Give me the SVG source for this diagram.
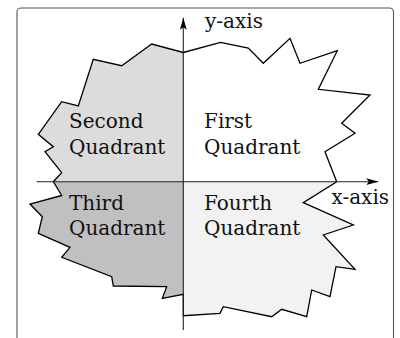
<svg xmlns="http://www.w3.org/2000/svg" width="400" height="338" viewBox="0 0 400 338">
<style>
  text { font-family: "DejaVu Serif", "Liberation Serif", serif; font-size: 20px; fill: #111; }
  .outline { fill: none; stroke: #000; stroke-width: 1.3; stroke-linejoin: miter; }
  .axis { fill: none; stroke: #222; stroke-width: 1.1; }
</style>
<defs>
  <polygon id="shape" points="183.3,52.5 220.5,42.3 248.3,48 263.3,63.3 290,38.3 300,63.3 337.3,50.7 318.3,89.3 370,95 341.7,123.3 355,133.3 325,151.7 336.7,181.7 303.3,202.7 353.3,225 323.3,235 355,269.3 336,266.7 330,296.7 311.7,290 306.7,316.7 281.7,309.3 271.7,316.7 223.3,306.7 220,313.3 183.3,315.7 183.3,294.3 162.3,298.3 166.7,286.7 113.3,286 111.7,276.7 61.7,257.3 70,247.3 38.3,233.3 42.3,216.7 30,204 61.7,195.5 53.3,181.7 61.7,172.7 45,151.7 53.3,146.7 38.3,134.3 61.7,101.7 78.3,106 93.3,59.3 121.7,65.7 151.7,44"/>
  <clipPath id="q2"><rect x="0" y="0" width="183.3" height="181.7"/></clipPath>
  <clipPath id="q3"><rect x="0" y="181.7" width="183.3" height="160"/></clipPath>
  <clipPath id="q4"><rect x="183.3" y="181.7" width="220" height="160"/></clipPath>
  <marker id="arrow" viewBox="0 0 12 8" refX="12" refY="4" markerWidth="12" markerHeight="8" markerUnits="userSpaceOnUse" orient="auto">
    <path d="M0,0.6 L12,4 L0,7.4 L2.5,4 Z" fill="#000"/>
  </marker>
</defs>
<g id="frame">
  <rect x="17" y="8" width="376.5" height="345" rx="4" ry="4" fill="#fff" stroke="#555" stroke-width="1.1"/>
</g>
<g id="quadrant-fills">
  <use href="#shape" fill="#dcdcdc" clip-path="url(#q2)"/>
  <use href="#shape" fill="#c0c0c0" clip-path="url(#q3)"/>
  <use href="#shape" fill="#f2f2f2" clip-path="url(#q4)"/>
</g>
<g id="outline">
  <use href="#shape" class="outline"/>
</g>
<g id="connectors">
  <line id="x-axis" class="axis" x1="36.7" y1="181.7" x2="378.3" y2="181.7" marker-end="url(#arrow)"/>
  <line id="y-axis" class="axis" x1="183.3" y1="330" x2="183.3" y2="17.7" marker-end="url(#arrow)"/>
</g>
<g id="label-y-axis"><text x="205" y="28">y-axis</text></g>
<g id="label-x-axis"><text x="331.5" y="203.5">x-axis</text></g>
<g id="second-quadrant"><text x="69" y="128.3">Second</text><text x="69" y="154.3">Quadrant</text></g>
<g id="first-quadrant"><text x="204" y="128.3">First</text><text x="204" y="154.3">Quadrant</text></g>
<g id="third-quadrant"><text x="69" y="210">Third</text><text x="69" y="235">Quadrant</text></g>
<g id="fourth-quadrant"><text x="204" y="210">Fourth</text><text x="204" y="235">Quadrant</text></g>
</svg>
